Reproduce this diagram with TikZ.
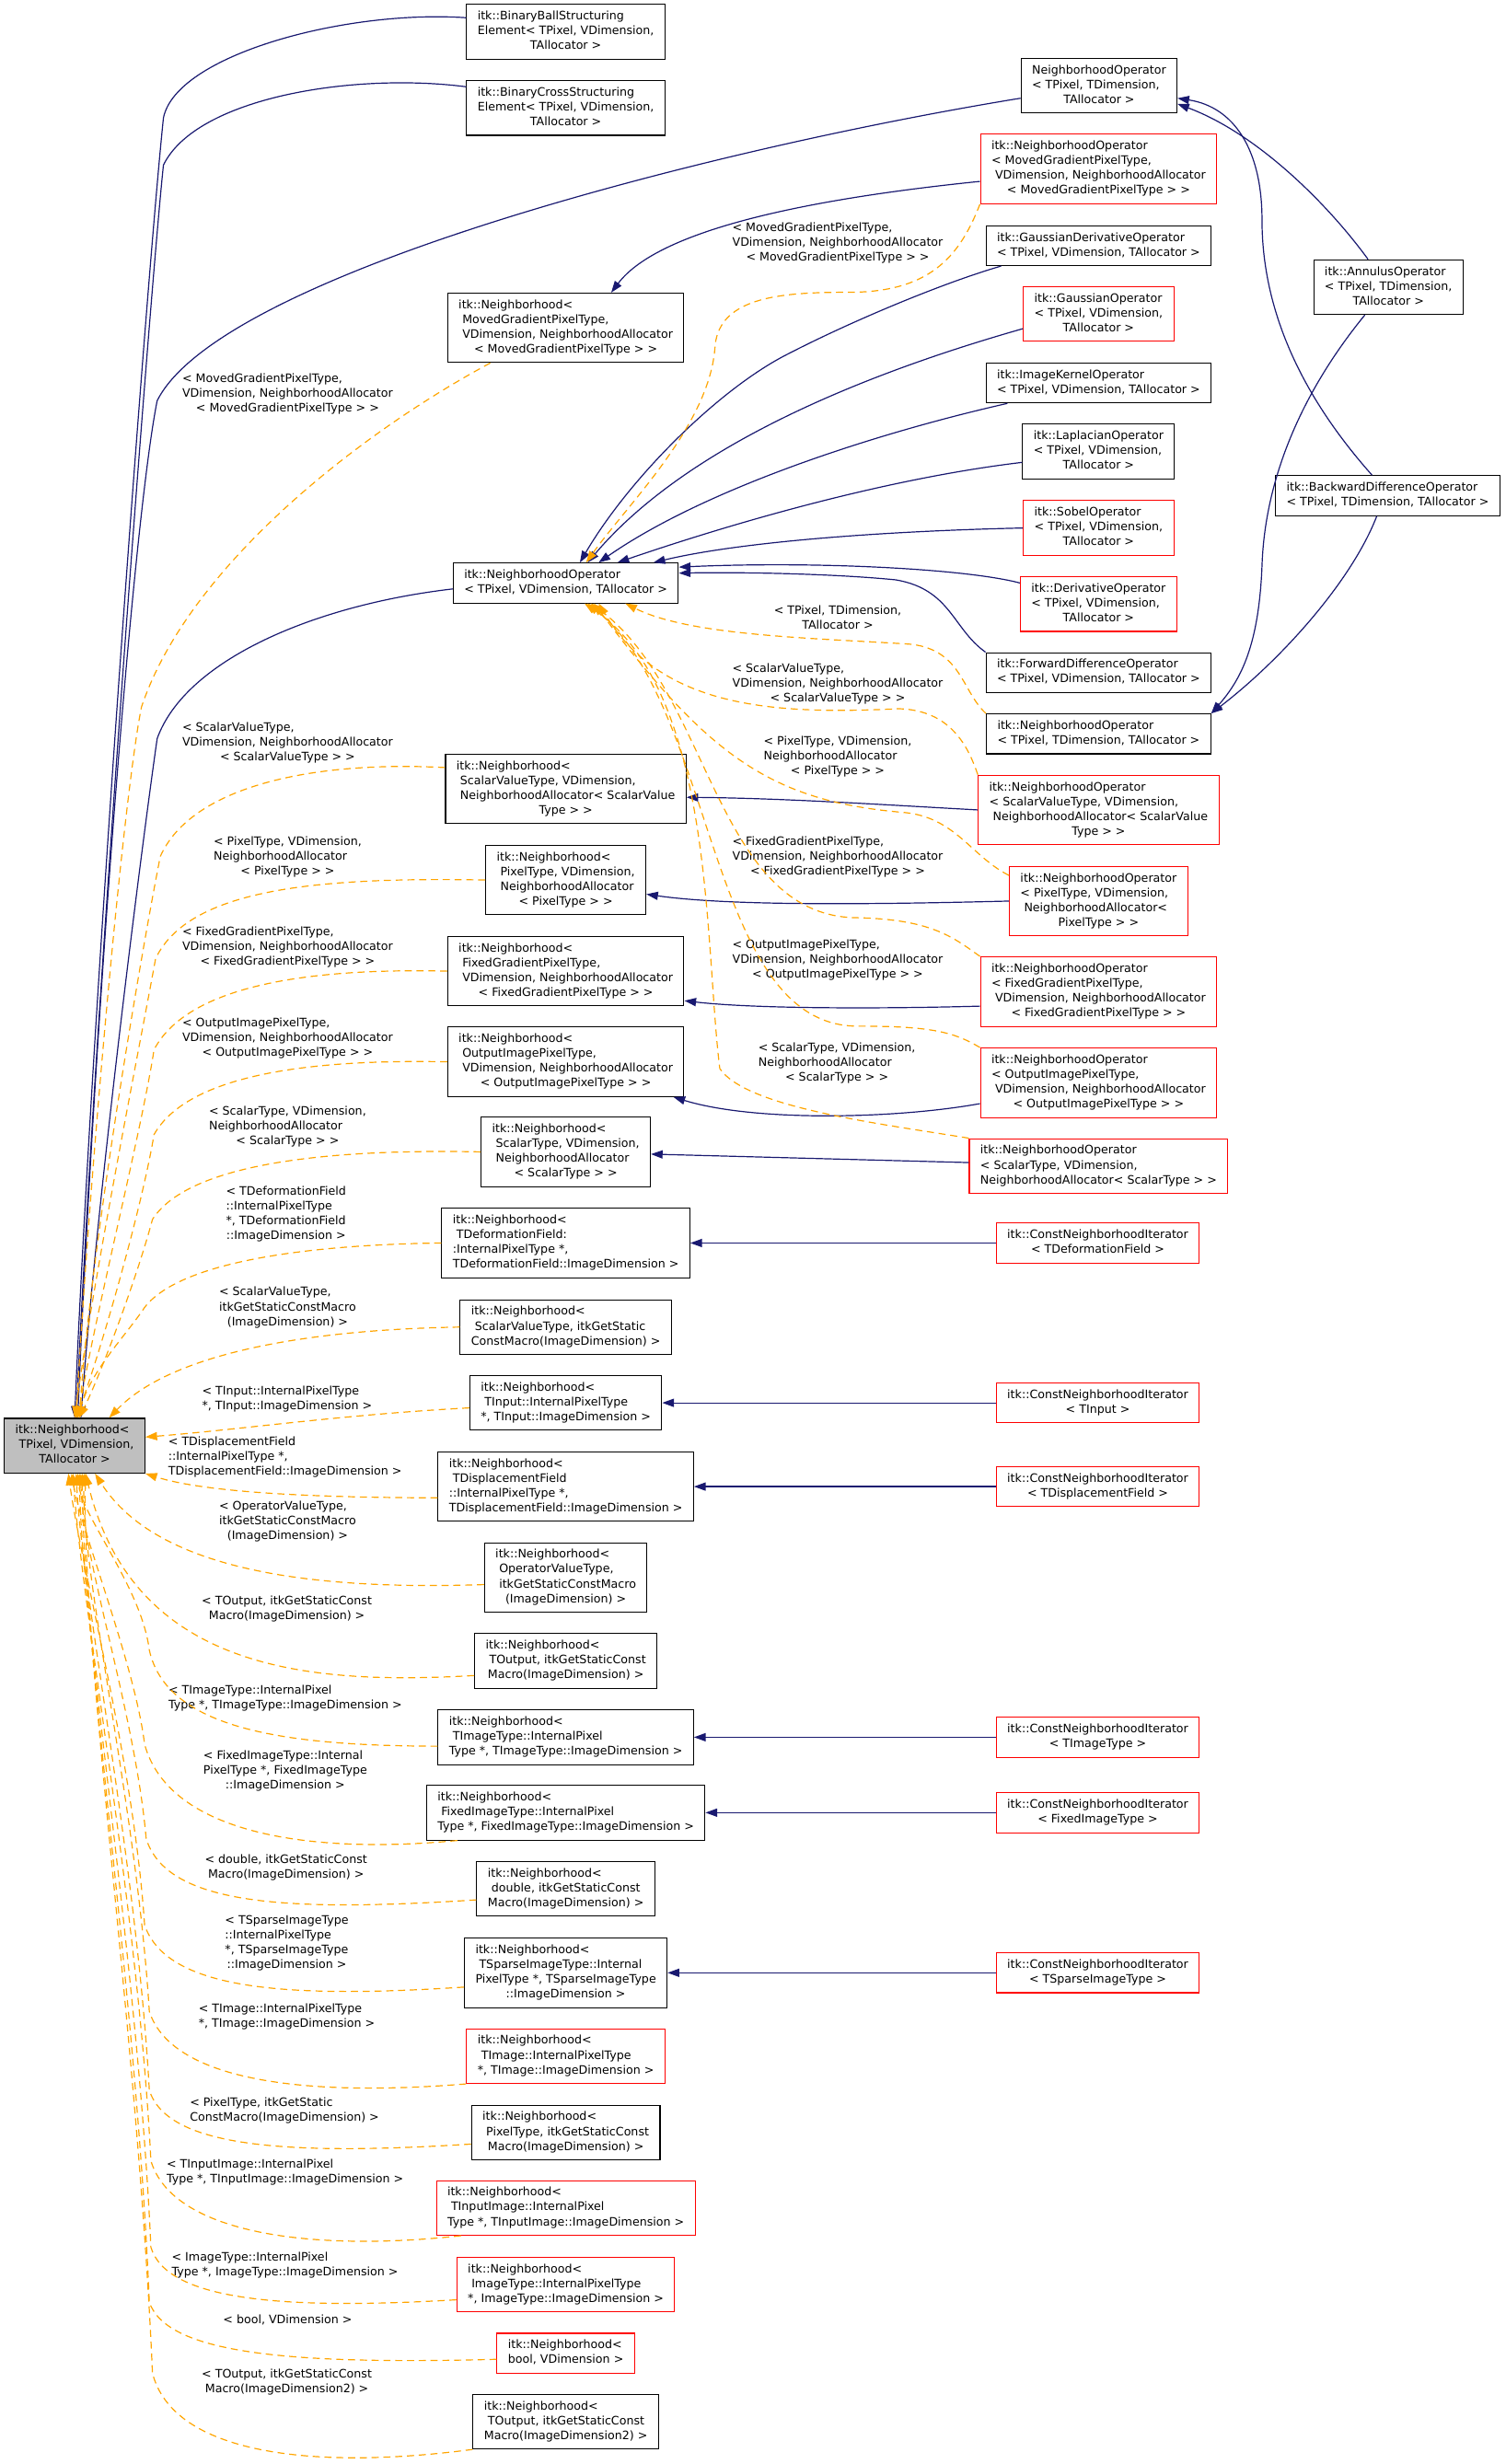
\documentclass[tikz,border=0pt]{standalone}
\usepackage{fontspec}
\setmainfont{DejaVu Sans}
\usetikzlibrary{arrows.meta}
\definecolor{colNavy}{RGB}{25,25,112}
\definecolor{colTmpl}{RGB}{255,165,0}
\definecolor{colRed}{RGB}{255,0,0}
\definecolor{colFill}{RGB}{191,191,191}
\newcommand{\gvsize}{\fontsize{7.4bp}{9.4bp}\selectfont}
% all lines left, the last one centred
\newcommand{\gv}[2]{\begin{tabular}{@{}l@{}}#1\\\multicolumn{1}{@{}c@{}}{#2}\end{tabular}}

\begin{document}
\begin{tikzpicture}[x=1bp, y=-1bp, font=\gvsize,
    cls/.style={rectangle, draw=black, line width=0.62bp, fill=white,
      inner xsep=7bp, inner ysep=3.3bp},
    clsr/.style={cls, draw=colRed},
    inh/.style={draw=colNavy, line width=0.7bp,
      -{Triangle[length=7.4bp,width=5.2bp]}},
    tpl/.style={draw=colTmpl, line width=0.7bp, dash pattern=on 4.5bp off 3bp,
      -{Triangle[length=7.4bp,width=5.2bp]}},
    lbl/.style={inner sep=0pt}]
  \useasboundingbox (0,0) rectangle (958,1568);

  % base class
  \node[cls, fill=colFill] (main) at (47.5,920)
    {\gv{itk::Neighborhood<\\\ TPixel, VDimension,}{TAllocator >}};

  % top row
  \node[cls] (bb) at (360,20.2)
    {\gv{itk::BinaryBallStructuring\\Element< TPixel, VDimension,}{TAllocator >}};
  \node[cls] (bc) at (360,68.7)
    {\gv{itk::BinaryCrossStructuring\\Element< TPixel, VDimension,}{TAllocator >}};
  \node[cls] (nopT) at (699.3,54.6)
    {\gv{NeighborhoodOperator\\< TPixel, TDimension,}{TAllocator >}};
  \node[clsr] (nopMoved) at (699,107.5)
    {\gv{itk::NeighborhoodOperator\\< MovedGradientPixelType,\\\ VDimension, NeighborhoodAllocator}{< MovedGradientPixelType > >}};
  \node[cls] (nMoved) at (360,208.6)
    {\gv{itk::Neighborhood<\\\ MovedGradientPixelType,\\\ VDimension, NeighborhoodAllocator}{< MovedGradientPixelType > >}};

  % operators
  \node[cls] (gaussDeriv) at (699,156.3)
    {\gv{itk::GaussianDerivativeOperator}{< TPixel, VDimension, TAllocator >}};
  \node[clsr] (gauss) at (699,199.8)
    {\gv{itk::GaussianOperator\\< TPixel, VDimension,}{TAllocator >}};
  \node[cls] (kernel) at (699,243.7)
    {\gv{itk::ImageKernelOperator}{< TPixel, VDimension, TAllocator >}};
  \node[cls] (lap) at (699,287.4)
    {\gv{itk::LaplacianOperator\\< TPixel, VDimension,}{TAllocator >}};
  \node[clsr] (sob) at (699,336)
    {\gv{itk::SobelOperator\\< TPixel, VDimension,}{TAllocator >}};
  \node[clsr] (der) at (699,384.4)
    {\gv{itk::DerivativeOperator\\< TPixel, VDimension,}{TAllocator >}};
  \node[cls] (fwd) at (699,428)
    {\gv{itk::ForwardDifferenceOperator}{< TPixel, VDimension, TAllocator >}};
  \node[cls] (nopTD) at (699,467)
    {\gv{itk::NeighborhoodOperator}{< TPixel, TDimension, TAllocator >}};
  \node[cls] (ann) at (883.4,182.7)
    {\gv{itk::AnnulusOperator\\< TPixel, TDimension,}{TAllocator >}};
  \node[cls] (bwd) at (883,315.4)
    {\gv{itk::BackwardDifferenceOperator}{< TPixel, TDimension, TAllocator >}};
  \node[cls] (nop) at (360,371)
    {\gv{itk::NeighborhoodOperator}{< TPixel, VDimension, TAllocator >}};

  % operator instances
  \node[clsr] (nopSV) at (699,515.4)
    {\gv{itk::NeighborhoodOperator\\< ScalarValueType, VDimension,\\\ NeighborhoodAllocator< ScalarValue}{Type > >}};
  \node[clsr] (nopPix) at (699,573.4)
    {\gv{itk::NeighborhoodOperator\\< PixelType, VDimension,\\\ NeighborhoodAllocator<}{PixelType > >}};
  \node[clsr] (nopFG) at (699,631)
    {\gv{itk::NeighborhoodOperator\\< FixedGradientPixelType,\\\ VDimension, NeighborhoodAllocator}{< FixedGradientPixelType > >}};
  \node[clsr] (nopOI) at (699,689)
    {\gv{itk::NeighborhoodOperator\\< OutputImagePixelType,\\\ VDimension, NeighborhoodAllocator}{< OutputImagePixelType > >}};
  \node[clsr] (nopS) at (699,742)
    {\gv{itk::NeighborhoodOperator\\< ScalarType, VDimension,}{NeighborhoodAllocator< ScalarType > >}};

  % iterators
  \node[clsr] (cniDeform) at (698.5,791)
    {\gv{itk::ConstNeighborhoodIterator}{< TDeformationField >}};
  \node[clsr] (cniTInput) at (698.5,892.7)
    {\gv{itk::ConstNeighborhoodIterator}{< TInput >}};
  \node[clsr] (cniDisp) at (698.5,946)
    {\gv{itk::ConstNeighborhoodIterator}{< TDisplacementField >}};
  \node[clsr] (cniTImg) at (698.5,1105.5)
    {\gv{itk::ConstNeighborhoodIterator}{< TImageType >}};
  \node[clsr] (cniFixed) at (698.5,1153.5)
    {\gv{itk::ConstNeighborhoodIterator}{< FixedImageType >}};
  \node[clsr] (cniSparse) at (698.5,1255.4)
    {\gv{itk::ConstNeighborhoodIterator}{< TSparseImageType >}};

  % neighborhood instances
  \node[cls] (nScalarValue) at (360,502)
    {\gv{itk::Neighborhood<\\\ ScalarValueType, VDimension,\\\ NeighborhoodAllocator< ScalarValue}{Type > >}};
  \node[cls] (nPixel) at (360,560)
    {\gv{itk::Neighborhood<\\\ PixelType, VDimension,\\\ NeighborhoodAllocator}{< PixelType > >}};
  \node[cls] (nFixedGrad) at (360,618)
    {\gv{itk::Neighborhood<\\\ FixedGradientPixelType,\\\ VDimension, NeighborhoodAllocator}{< FixedGradientPixelType > >}};
  \node[cls] (nOutImg) at (360,675.7)
    {\gv{itk::Neighborhood<\\\ OutputImagePixelType,\\\ VDimension, NeighborhoodAllocator}{< OutputImagePixelType > >}};
  \node[cls] (nScalar) at (360,733)
    {\gv{itk::Neighborhood<\\\ ScalarType, VDimension,\\\ NeighborhoodAllocator}{< ScalarType > >}};
  \node[cls] (nDeform) at (360,791)
    {\gv{itk::Neighborhood<\\\ TDeformationField:\\:InternalPixelType *,}{TDeformationField::ImageDimension >}};
  \node[cls] (nSVStatic) at (360,844.5)
    {\gv{itk::Neighborhood<\\\ ScalarValueType, itkGetStatic}{ConstMacro(ImageDimension) >}};
  \node[cls] (nTInput) at (360,892.7)
    {\gv{itk::Neighborhood<\\\ TInput::InternalPixelType}{*, TInput::ImageDimension >}};
  \node[cls] (nDisp) at (360,946)
    {\gv{itk::Neighborhood<\\\ TDisplacementField\\::InternalPixelType *,}{TDisplacementField::ImageDimension >}};
  \node[cls] (nOpVal) at (360,1003.8)
    {\gv{itk::Neighborhood<\\\ OperatorValueType,\\\ itkGetStaticConstMacro}{(ImageDimension) >}};
  \node[cls] (nTOut) at (360,1057)
    {\gv{itk::Neighborhood<\\\ TOutput, itkGetStaticConst}{Macro(ImageDimension) >}};
  \node[cls] (nTImgType) at (360,1105.5)
    {\gv{itk::Neighborhood<\\\ TImageType::InternalPixel}{Type *, TImageType::ImageDimension >}};
  \node[cls] (nFixedImg) at (360,1153.5)
    {\gv{itk::Neighborhood<\\\ FixedImageType::InternalPixel}{Type *, FixedImageType::ImageDimension >}};
  \node[cls] (nDouble) at (360,1202)
    {\gv{itk::Neighborhood<\\\ double, itkGetStaticConst}{Macro(ImageDimension) >}};
  \node[cls] (nSparse) at (360,1255.4)
    {\gv{itk::Neighborhood<\\\ TSparseImageType::Internal\\PixelType *, TSparseImageType}{::ImageDimension >}};
  \node[clsr] (nTImage) at (360,1308.4)
    {\gv{itk::Neighborhood<\\\ TImage::InternalPixelType}{*, TImage::ImageDimension >}};
  \node[cls] (nPixStatic) at (360,1357)
    {\gv{itk::Neighborhood<\\\ PixelType, itkGetStaticConst}{Macro(ImageDimension) >}};
  \node[clsr] (nTInImg) at (360,1405)
    {\gv{itk::Neighborhood<\\\ TInputImage::InternalPixel}{Type *, TInputImage::ImageDimension >}};
  \node[clsr] (nImgType) at (360,1453.7)
    {\gv{itk::Neighborhood<\\\ ImageType::InternalPixelType}{*, ImageType::ImageDimension >}};
  \node[clsr] (nBool) at (360,1497.5)
    {\gv{itk::Neighborhood<}{bool, VDimension >}};
  \node[cls] (nTOut2) at (360,1541)
    {\gv{itk::Neighborhood<\\\ TOutput, itkGetStaticConst}{Macro(ImageDimension2) >}};

  % edge labels, left
  \node[lbl] (lbMoved) at (183,251) {\gv{< MovedGradientPixelType,\\VDimension, NeighborhoodAllocator}{< MovedGradientPixelType > >}};
  \node[lbl] (lbScalarValue) at (183,472.6) {\gv{< ScalarValueType,\\VDimension, NeighborhoodAllocator}{< ScalarValueType > >}};
  \node[lbl] (lbPixel) at (183,545.3) {\gv{< PixelType, VDimension,\\NeighborhoodAllocator}{< PixelType > >}};
  \node[lbl] (lbFixedGrad) at (183,602.7) {\gv{< FixedGradientPixelType,\\VDimension, NeighborhoodAllocator}{< FixedGradientPixelType > >}};
  \node[lbl] (lbOutImg) at (183,660.7) {\gv{< OutputImagePixelType,\\VDimension, NeighborhoodAllocator}{< OutputImagePixelType > >}};
  \node[lbl] (lbScalar) at (183,717) {\gv{< ScalarType, VDimension,\\NeighborhoodAllocator}{< ScalarType > >}};
  \node[lbl] (lbDeform) at (182,772.5) {\gv{< TDeformationField\\::InternalPixelType\\{}*, TDeformationField}{::ImageDimension >}};
  \node[lbl] (lbSVStatic) at (183,832.2) {\gv{< ScalarValueType,\\itkGetStaticConstMacro}{(ImageDimension) >}};
  \node[lbl] (lbTInput) at (182.7,890.4) {\gv{< TInput::InternalPixelType}{*, TInput::ImageDimension >}};
  \node[lbl] (lbDisp) at (181.4,927.3) {\gv{< TDisplacementField\\::InternalPixelType *,}{TDisplacementField::ImageDimension >}};
  \node[lbl] (lbOpVal) at (183,968.4) {\gv{< OperatorValueType,\\itkGetStaticConstMacro}{(ImageDimension) >}};
  \node[lbl] (lbTOut) at (182.5,1023.8) {\gv{< TOutput, itkGetStaticConst}{Macro(ImageDimension) >}};
  \node[lbl] (lbTImgType) at (181.5,1080.8) {\gv{< TImageType::InternalPixel}{Type *, TImageType::ImageDimension >}};
  \node[lbl] (lbFixedImg) at (181.5,1127.1) {\gv{< FixedImageType::Internal\\PixelType *, FixedImageType}{::ImageDimension >}};
  \node[lbl] (lbDouble) at (182,1188.5) {\gv{< double, itkGetStaticConst}{Macro(ImageDimension) >}};
  \node[lbl] (lbSparse) at (182.5,1236.7) {\gv{< TSparseImageType\\::InternalPixelType\\{}*, TSparseImageType}{::ImageDimension >}};
  \node[lbl] (lbTImage) at (182.5,1283.5) {\gv{< TImage::InternalPixelType}{*, TImage::ImageDimension >}};
  \node[lbl] (lbPixStatic) at (181,1343.2) {\gv{< PixelType, itkGetStatic}{ConstMacro(ImageDimension) >}};
  \node[lbl] (lbTInImg) at (181.4,1382.5) {\gv{< TInputImage::InternalPixel}{Type *, TInputImage::ImageDimension >}};
  \node[lbl] (lbImgType) at (181.3,1441.6) {\gv{< ImageType::InternalPixel}{Type *, ImageType::ImageDimension >}};
  \node[lbl] (lbBool) at (183,1476.1) {< bool, VDimension >};
  \node[lbl] (lbTOut2) at (182.5,1516.2) {\gv{< TOutput, itkGetStaticConst}{Macro(ImageDimension2) >}};

  % edge labels, right
  \node[lbl] (lbOpMoved) at (533,155) {\gv{< MovedGradientPixelType,\\VDimension, NeighborhoodAllocator}{< MovedGradientPixelType > >}};
  \node[lbl] (lbOpTD) at (533,394) {\gv{< TPixel, TDimension,}{TAllocator >}};
  \node[lbl] (lbOpSV) at (533,435.5) {\gv{< ScalarValueType,\\VDimension, NeighborhoodAllocator}{< ScalarValueType > >}};
  \node[lbl] (lbOpPix) at (533,481.8) {\gv{< PixelType, VDimension,\\NeighborhoodAllocator}{< PixelType > >}};
  \node[lbl] (lbOpFG) at (533,545.3) {\gv{< FixedGradientPixelType,\\VDimension, NeighborhoodAllocator}{< FixedGradientPixelType > >}};
  \node[lbl] (lbOpOI) at (533,611) {\gv{< OutputImagePixelType,\\VDimension, NeighborhoodAllocator}{< OutputImagePixelType > >}};
  \node[lbl] (lbOpS) at (532.5,676.6) {\gv{< ScalarType, VDimension,\\NeighborhoodAllocator}{< ScalarType > >}};

  % inheritance into the base class
  \draw[inh] (bb.172) .. controls (220,6) and (112,35) .. (104,75) .. controls (94,170) and (58,650) .. (main.north);
  \draw[inh] (bc.168) .. controls (225,46) and (125,62) .. (104,105) .. controls (96,180) and (60,650) .. ([xshift=1]main.north);
  \draw[inh] (nopT.189) .. controls (450,95) and (140,175) .. (100,255) .. controls (85,330) and (60,650) .. ([xshift=2]main.north);
  \draw[inh] (nop.183) .. controls (200,385) and (118,420) .. (100,470) .. controls (90,540) and (62,760) .. ([xshift=4]main.north);

  % operators
  \draw[inh] (nopMoved.186) .. controls (520,126) and (420,145) .. ([xshift=29]nMoved.north);
  \draw[inh] ([xshift=-13]ann.north) .. controls (845,130) and (800,85) .. (nopT.-13);
  \draw[inh] ([xshift=-10]bwd.north) .. controls (822,245) and (803,190) .. (803,140) .. controls (803,95) and (785,68) .. (nopT.-9);
  \draw[inh] ([xshift=-15]ann.south) .. controls (832,245) and (805,300) .. (803,360) .. controls (801,410) and (790,432) .. (nopTD.north east);
  \draw[inh] ([xshift=-7]bwd.south) .. controls (860,370) and (815,420) .. (nopTD.north east);
  \draw[inh] ([xshift=10]gaussDeriv.south west) .. controls (600,180) and (540,205) .. (498,227) .. controls (455,250) and (400,305) .. ([xshift=9]nop.north);
  \draw[inh] (gauss.191) .. controls (560,235) and (440,280) .. ([xshift=14]nop.north);
  \draw[inh] ([xshift=14]kernel.south west) .. controls (560,275) and (450,310) .. ([xshift=21]nop.north);
  \draw[inh] (lap.188) .. controls (560,305) and (460,335) .. ([xshift=33]nop.north);
  \draw[inh] (sob.west) .. controls (560,338) and (470,345) .. ([xshift=56]nop.north);
  \draw[inh] (der.165) .. controls (615,362) and (520,357) .. (nop.8);
  \draw[inh] (fwd.north west) .. controls (606,400) and (605,375) .. (570,369) .. controls (530,365) and (470,364) .. (nop.5);

  % instances to neighborhoods
  \draw[inh] (nopSV.west) .. controls (560,512) and (500,508) .. (nScalarValue.-4);
  \draw[inh] (nopPix.west) .. controls (540,576) and (460,576) .. (nPixel.-10);
  \draw[inh] (nopFG.187) .. controls (560,642) and (480,642) .. (nFixedGrad.-14);
  \draw[inh] (nopOI.190) .. controls (570,712) and (480,714) .. ([xshift=-7]nOutImg.south east);
  \draw[inh] (nopS) -- (nScalar);
  \draw[inh] (cniDeform) -- (nDeform);
  \draw[inh] (cniTInput) -- (nTInput);
  \draw[inh] (cniDisp) -- (nDisp);
  \draw[inh] (cniTImg) -- (nTImgType);
  \draw[inh] (cniFixed) -- (nFixedImg);
  \draw[inh] (cniSparse) -- (nSparse);

  % template instances of the operator
  \draw[tpl] (nopMoved.south west) .. controls (610,165) and (590,186) .. (540,186) .. controls (500,186) and (458,188) .. (455,220) .. controls (452,270) and (400,320) .. ([xshift=13]nop.north);
  \draw[tpl] (nopTD.north west) .. controls (612,440) and (612,414) .. (580,410) .. controls (520,406) and (440,405) .. ([xshift=38]nop.south);
  \draw[tpl] (nopSV.north west) .. controls (616,475) and (605,452) .. (572,451) .. controls (490,455) and (420,450) .. ([xshift=21]nop.south);
  \draw[tpl] (nopPix.164) .. controls (618,545) and (608,520) .. (575,517) .. controls (490,510) and (450,480) .. ([xshift=18]nop.south);
  \draw[tpl] (nopFG.north west) .. controls (606,596) and (592,585) .. (545,584) .. controls (455,583) and (452,440) .. ([xshift=16]nop.south);
  \draw[tpl] (nopOI.north west) .. controls (606,656) and (590,653) .. (545,653) .. controls (450,652) and (456,450) .. ([xshift=14]nop.south);
  \draw[tpl] (nopS.north west) .. controls (560,715) and (475,705) .. (458,680) .. controls (448,600) and (455,440) .. ([xshift=12]nop.south);

  % template instances of the base class, above it
  \draw[tpl] (nMoved.205) .. controls (230,275) and (120,360) .. (90,450) .. controls (78,510) and (56,760) .. ([xshift=1]main.north);
  \draw[tpl] (nScalarValue.170) .. controls (200,484) and (122,500) .. (102,545) .. controls (92,595) and (58,790) .. ([xshift=3]main.north);
  \draw[tpl] (nPixel.west) .. controls (200,558) and (120,566) .. (99,610) .. controls (90,660) and (60,810) .. (main.north);
  \draw[tpl] (nFixedGrad.west) .. controls (200,616) and (120,626) .. (98,668) .. controls (90,720) and (62,830) .. ([xshift=2]main.north);
  \draw[tpl] (nOutImg.west) .. controls (200,674) and (120,683) .. (98,722) .. controls (90,770) and (64,860) .. ([xshift=1]main.north);
  \draw[tpl] (nScalar.west) .. controls (210,731) and (120,740) .. (97,776) .. controls (88,810) and (66,870) .. ([xshift=3]main.north);
  \draw[tpl] (nDeform.west) .. controls (200,792) and (115,802) .. (92,832) .. controls (80,850) and (58,872) .. ([xshift=2]main.north);
  \draw[tpl] (nSVStatic.west) .. controls (200,846) and (110,860) .. ([xshift=22]main.north);
  \draw[tpl] (nTInput.183) .. controls (220,900) and (150,910) .. (main.7);
  \draw[tpl] (nDisp.185) .. controls (180,953) and (125,948) .. (main.south east);

  % and below it
  \draw[tpl] (nOpVal.185) .. controls (200,1012) and (100,1000) .. ([xshift=13]main.south);
  \draw[tpl] (nTOut.189) .. controls (200,1072) and (85,1065) .. ([xshift=7]main.south);
  \draw[tpl] (nTImgType.184) .. controls (180,1111) and (106,1100) .. (95,1050) .. controls (90,1010) and (52,965) .. ([xshift=2]main.south);
  \draw[tpl] ([xshift=20]nFixedImg.south west) .. controls (200,1180) and (108,1168) .. (92,1110) .. controls (86,1060) and (52,975) .. ([xshift=-2]main.south);
  \draw[tpl] (nDouble.187) .. controls (180,1217) and (106,1212) .. (93,1170) .. controls (86,1090) and (52,990) .. ([xshift=4]main.south);
  \draw[tpl] (nSparse.188) .. controls (180,1272) and (106,1266) .. (92,1225) .. controls (85,1120) and (52,1000) .. ([xshift=-4]main.south);
  \draw[tpl] (nTImage.south west) .. controls (200,1334) and (110,1326) .. (95,1280) .. controls (87,1150) and (52,1005) .. ([xshift=6]main.south);
  \draw[tpl] (nPixStatic.187) .. controls (180,1372) and (106,1366) .. (95,1330) .. controls (87,1185) and (52,1015) .. ([xshift=1]main.south);
  \draw[tpl] ([xshift=16]nTInImg.south west) .. controls (200,1433) and (110,1422) .. (96,1375) .. controls (88,1215) and (52,1025) .. ([xshift=-1]main.south);
  \draw[tpl] (nImgType.188) .. controls (180,1470) and (106,1464) .. (96,1430) .. controls (88,1250) and (52,1035) .. ([xshift=3]main.south);
  \draw[tpl] (nBool.185) .. controls (180,1505) and (106,1497) .. (95,1465) .. controls (87,1270) and (52,1043) .. ([xshift=5]main.south);
  \draw[tpl] (nTOut2.south west) .. controls (200,1572) and (110,1562) .. (97,1510) .. controls (88,1300) and (52,1052) .. ([xshift=7]main.south);
\end{tikzpicture}
\end{document}
